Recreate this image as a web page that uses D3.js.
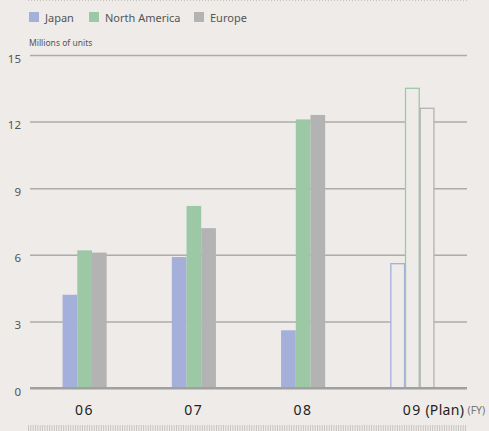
<!DOCTYPE html>
<html>
<head>
<meta charset="utf-8">
<script src="https://cdn.jsdelivr.net/npm/d3@7"></script>
<style>
  html, body { margin: 0; padding: 0; background: #eeebe8; }
  svg { display: block; font-family: "Noto Sans", "Open Sans", sans-serif; }
</style>
</head>
<body>
<svg id="chart" width="489" height="431"></svg>
<script>
// Unit sales by region, fiscal years 2006-2009 (2009 is a plan)
const years = ["06", "07", "08", "09"];
const regions = ["Japan", "North America", "Europe"];
const japan = [4.2, 5.9, 2.6, 5.6];
const northAmerica = [6.2, 8.2, 12.1, 13.5];
const europe = [6.1, 7.2, 12.3, 12.6];
const yTicks = [0, 3, 6, 9, 12, 15];
const planYear = "09";

const colors = { "Japan": "#a4b0da", "North America": "#9dc8a5", "Europe": "#b3b3b3" };
const bg = "#eeebe8";
const series = { "Japan": japan, "North America": northAmerica, "Europe": europe };

const svg = d3.select("#chart");
const plotLeft = 30, plotRight = 467, plotTop = 55, plotBottom = 388;

const x = d3.scaleBand().domain(years).range([plotLeft, plotRight]).padding(0);
const y = d3.scaleLinear().domain([0, 15]).range([plotBottom, plotTop]);
const barW = 14.7;
const inner = d3.scaleBand().domain(regions).range([-barW * 1.5, barW * 1.5]).padding(0);

// top dotted rule
svg.append("line")
  .attr("x1", plotLeft - 2).attr("x2", plotRight).attr("y1", 0.5).attr("y2", 0.5)
  .attr("stroke", "#c4c1be").attr("stroke-width", 1.2).attr("stroke-dasharray", "1,2");

// legend
const legend = svg.append("g").selectAll("g").data(regions).join("g")
  .attr("transform", (d, i) => `translate(${[29, 89, 194][i]},12)`);
legend.append("rect").attr("width", 10).attr("height", 10).attr("fill", d => colors[d]);
legend.append("text").attr("x", 16).attr("y", 9.5)
  .attr("font-size", 11).attr("fill", "#555").text(d => d);

// unit label
svg.append("text").attr("x", 29).attr("y", 46)
  .attr("font-size", 8.5).attr("fill", "#555").text("Millions of units");

// gridlines and y axis labels
const yAxis = d3.axisLeft(y).tickValues(yTicks).tickSize(-(plotRight - plotLeft)).tickPadding(9);
const gy = svg.append("g").attr("transform", `translate(${plotLeft},0)`).call(yAxis);
gy.select(".domain").remove();
gy.selectAll(".tick line")
  .attr("stroke", d => (d === 0 ? "#a0a0a0" : "#acacac"))
  .attr("stroke-width", d => (d === 0 ? 2 : 1.5));
gy.selectAll(".tick text")
  .attr("font-size", 11.5).attr("fill", "#555")
  .attr("font-family", "Noto Sans, sans-serif")
  .attr("dy", "0.62em");

// bars
const groups = svg.append("g").selectAll("g").data(years).join("g")
  .attr("transform", d => `translate(${x(d) + x.bandwidth() / 2},0)`);

groups.selectAll("rect")
  .data((yr, i) => regions.map(r => ({ yr, r, v: series[r][i] })))
  .join("rect")
  .attr("x", d => inner(d.r) + (d.yr === planYear ? 0.5 : 0))
  .attr("width", d => (d.yr === planYear ? inner.bandwidth() - 1 : inner.bandwidth()))
  .attr("y", d => y(d.v))
  .attr("height", d => y(0) - y(d.v))
  .attr("fill", d => (d.yr === planYear ? bg : colors[d.r]))
  .attr("stroke", d => (d.yr === planYear ? colors[d.r] : "none"))
  .attr("stroke-width", 1.3);

// baseline on top of bars
svg.append("line").attr("x1", plotLeft).attr("x2", plotRight)
  .attr("y1", y(0)).attr("y2", y(0))
  .attr("stroke", "#a0a0a0").attr("stroke-width", 2);

// x axis labels
const xAxis = d3.axisBottom(x).tickSize(0).tickPadding(0);
const gx = svg.append("g").attr("transform", `translate(0,${plotBottom + 21})`).call(xAxis);
gx.select(".domain").remove();
gx.selectAll(".tick text")
  .attr("font-size", 14).attr("fill", "#222").attr("letter-spacing", 1.5)
  .attr("font-family", "Noto Sans, sans-serif")
  .attr("dy", 0).attr("y", 5.5);

// plan annotation beside the last year
svg.append("text").attr("x", x(planYear) + x.bandwidth() / 2 + 13).attr("y", plotBottom + 26.5)
  .attr("font-size", 14).attr("fill", "#222").attr("letter-spacing", 0.3).text("(Plan)");
svg.append("text").attr("x", plotRight + 0.5).attr("y", plotBottom + 26)
  .attr("font-size", 10.5).attr("fill", "#777").text("(FY)");

// bottom tick strip
svg.append("line")
  .attr("x1", plotLeft - 2).attr("x2", plotRight).attr("y1", 428).attr("y2", 428)
  .attr("stroke", "#c4c1be").attr("stroke-width", 6).attr("stroke-dasharray", "0.9,1.45");
</script>
</body>
</html>
